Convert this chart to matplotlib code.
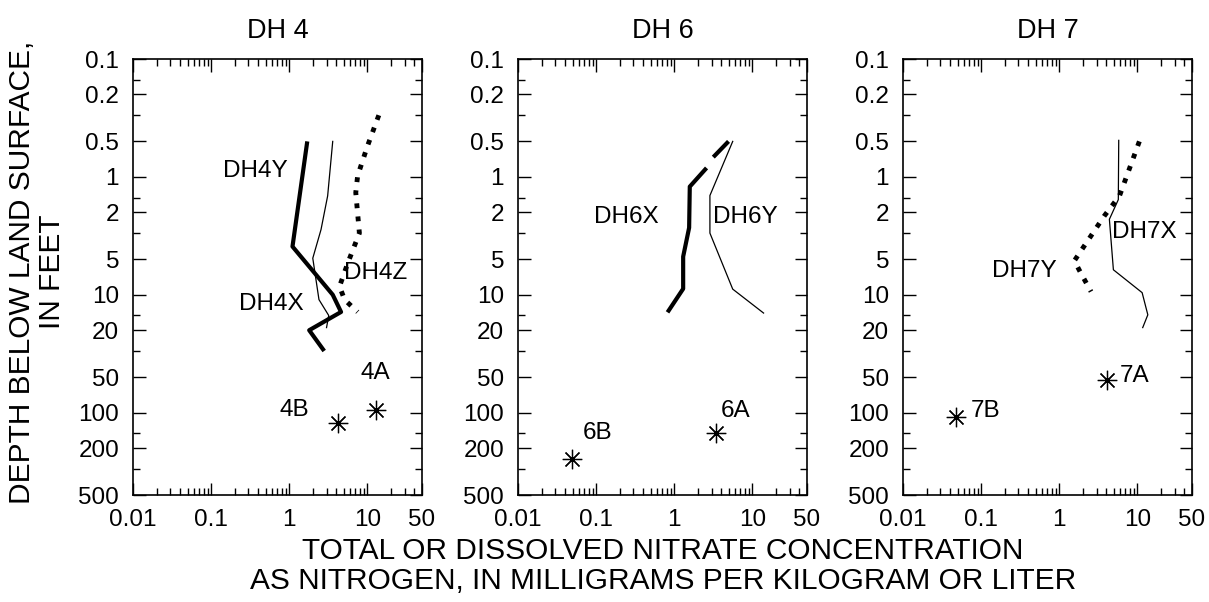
import numpy as np
import matplotlib
matplotlib.use("Agg")
import matplotlib.pyplot as plt
from matplotlib.ticker import FixedLocator, FixedFormatter, NullFormatter

plt.rcParams["font.family"] = ["Liberation Sans", "DejaVu Sans"]

# --- data (concentration mg/kg or mg/L, depth in feet) ---
dh4y_conc = [1.7, 1.1, 3.6, 4.6, 1.8, 2.8]
dh4y_depth = [0.5, 3.9, 10, 14, 20, 30]
dh4x_conc = [3.6, 3.1, 2.55, 2.0, 2.4, 3.2, 3.0]
dh4x_depth = [0.5, 1.45, 2.8, 4.9, 11, 15, 19]
dh4z_conc = [14, 10, 7.5, 7.1, 7.9, 5.6, 4.4, 5.1, 7.5]
dh4z_depth = [0.3, 0.55, 0.98, 1.36, 3.0, 5.4, 8.5, 11, 14]
well4_names = ["4A", "4B"]
well4_conc = [12.8, 4.15]
well4_depth = [95, 123]

dh6x_conc = [4.95, 3.16, np.nan, 2.59, 1.58, 1.55, 1.3, 1.3, 0.82]
dh6x_depth = [0.5, 0.68, np.nan, 0.84, 1.21, 2.7, 4.75, 8.9, 14.1]
dh6y_conc = [5.6, 2.86, 2.86, 5.6, 13.9]
dh6y_depth = [0.5, 1.44, 3.0, 8.96, 14.3]
well6_names = ["6A", "6B"]
well6_conc = [3.41, 0.049]
well6_depth = [149, 248]

dh7x_conc = [5.77, 5.7, 4.38, 4.93, 11.5, 13.6, 11.7]
dh7x_depth = [0.49, 1.56, 2.29, 6.14, 9.6, 14.8, 19]
dh7y_conc = [10.6, 5.9, 3.78, 1.56, 1.9, 2.55]
dh7y_depth = [0.5, 1.45, 2.14, 5.15, 6.6, 9.4]
well7_names = ["7A", "7B"]
well7_conc = [4.06, 0.048]
well7_depth = [52.6, 110]

x_ticks = [0.01, 0.1, 1, 10, 50]
x_labels = ["0.01", "0.1", "1", "10", "50"]
y_ticks = [0.1, 0.2, 0.5, 1, 2, 5, 10, 20, 50, 100, 200, 500]
y_labels = ["0.1", "0.2", "0.5", "1", "2", "5", "10", "20", "50", "100", "200", "500"]
y_minor = [0.15, 0.3, 1.5, 3, 15, 30, 150, 300]

W, H = 1209, 602
fig = plt.figure(figsize=(W / 100, H / 100), dpi=100)

FS = 17.5
thick = dict(color="black", lw=3.0, solid_capstyle="butt")
thin = dict(color="black", lw=0.9)
dotted = dict(color="black", lw=3.5, linestyle=(0, (1, 1.7)), dash_capstyle="butt")
star = dict(color="black", marker=(8, 2, 0), ms=14, mew=0.9, linestyle="none")


def make_axes(left_px, title):
    ax = fig.add_axes([left_px / W, 1 - 495 / H, 289 / W, (495 - 59) / H])
    ax.set_xscale("log")
    ax.set_yscale("log")
    ax.set_xlim(0.01, 50)
    ax.set_ylim(500, 0.1)
    ax.xaxis.set_major_locator(FixedLocator(x_ticks))
    ax.xaxis.set_major_formatter(FixedFormatter(x_labels))
    ax.xaxis.set_minor_formatter(NullFormatter())
    ax.yaxis.set_major_locator(FixedLocator(y_ticks))
    ax.yaxis.set_major_formatter(FixedFormatter(y_labels))
    ax.yaxis.set_minor_locator(FixedLocator(y_minor))
    ax.yaxis.set_minor_formatter(NullFormatter())
    ax.tick_params(which="both", direction="in", top=True, right=True,
                   width=1.0, labelsize=FS)
    ax.tick_params(which="major", length=9, pad=10)
    ax.tick_params(which="minor", length=5)
    for s in ax.spines.values():
        s.set_linewidth(1.2)
    ax.set_title(title, fontsize=19.5, pad=15)
    return ax


ax1 = make_axes(133, "DH 4")
ax1.plot(dh4y_conc, dh4y_depth, **thick)
ax1.plot(dh4x_conc, dh4x_depth, **thin)
ax1.plot(dh4z_conc, dh4z_depth, **dotted)
ax1.plot(well4_conc, well4_depth, **star)
ax1.text(0.37, 0.89, "DH4Y", fontsize=FS, ha="center", va="center")
ax1.text(0.59, 12.1, "DH4X", fontsize=FS, ha="center", va="center")
ax1.text(12.8, 6.5, "DH4Z", fontsize=FS, ha="center", va="center")
ax1.text(12.8, 46, well4_names[0], fontsize=FS, ha="center", va="center")
ax1.text(1.16, 95, well4_names[1], fontsize=FS, ha="center", va="center")

ax2 = make_axes(518, "DH 6")
ax2.plot(dh6x_conc, dh6x_depth, **thick)
ax2.plot(dh6y_conc, dh6y_depth, **thin)
ax2.plot(well6_conc, well6_depth, **star)
ax2.text(0.24, 2.17, "DH6X", fontsize=FS, ha="center", va="center")
ax2.text(8.1, 2.17, "DH6Y", fontsize=FS, ha="center", va="center")
ax2.text(6.15, 97.5, well6_names[0], fontsize=FS, ha="center", va="center")
ax2.text(0.104, 149, well6_names[1], fontsize=FS, ha="center", va="center")

ax3 = make_axes(903, "DH 7")
ax3.plot(dh7x_conc, dh7x_depth, **thin)
ax3.plot(dh7y_conc, dh7y_depth, **dotted)
ax3.plot(well7_conc, well7_depth, **star)
ax3.text(12.3, 2.93, "DH7X", fontsize=FS, ha="center", va="center")
ax3.text(0.36, 6.3, "DH7Y", fontsize=FS, ha="center", va="center")
ax3.text(9.3, 49, well7_names[0], fontsize=FS, ha="center", va="center")
ax3.text(0.113, 96, well7_names[1], fontsize=FS, ha="center", va="center")

fig.text(37 / W, 1 - 272 / H, "DEPTH BELOW LAND SURFACE,\nIN FEET",
         rotation=90, ha="center", va="center", multialignment="center",
         fontsize=21.5, linespacing=1.05)
fig.text(663 / W, 1 - 566 / H,
         "TOTAL OR DISSOLVED NITRATE CONCENTRATION\n"
         "AS NITROGEN, IN MILLIGRAMS PER KILOGRAM OR LITER",
         ha="center", va="center", multialignment="center",
         fontsize=21.5, linespacing=1.05)

fig.savefig("out.png", dpi=100, facecolor="white")
